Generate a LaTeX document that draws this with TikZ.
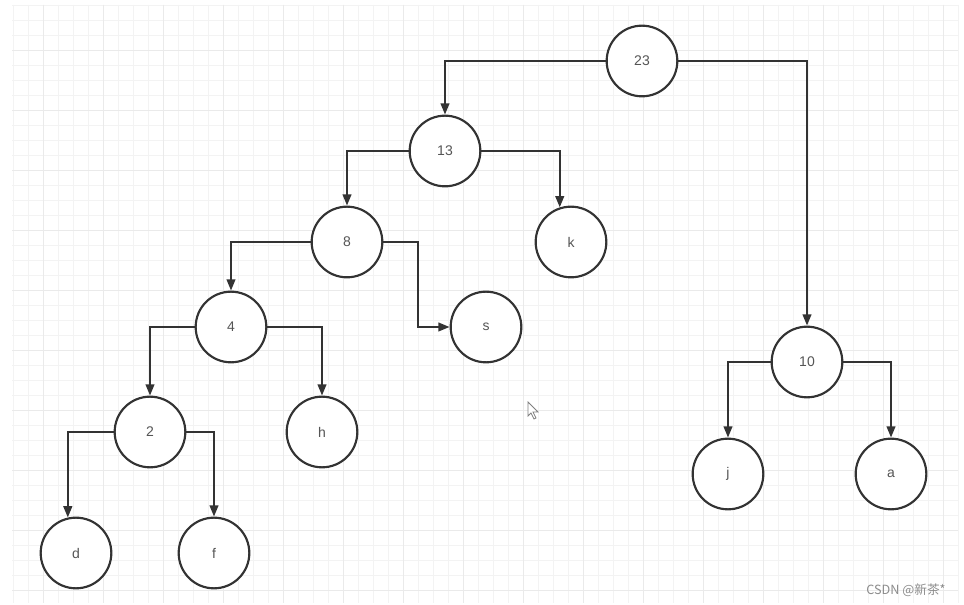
\documentclass[tikz,border=0pt]{standalone}
\usepackage{fontspec}
\setmainfont{Liberation Sans}
\newfontfamily\cjk{Noto Sans CJK SC}
\usetikzlibrary{arrows.meta}

\definecolor{gridminor}{HTML}{F3F3F3}
\definecolor{gridmajor}{HTML}{EAEAEA}
\definecolor{linegray}{HTML}{333333}
\definecolor{textgray}{HTML}{555555}

\tikzset{
	leaf/.style={circle, draw=linegray, line width=1.6pt, fill=white,
		minimum size=53pt, inner sep=0pt, text=textgray,
		font=\fontsize{10.5}{12}\selectfont},
	edge/.style={draw=linegray, line width=1.6pt,
		-{Triangle[length=8.5pt,width=6.5pt]}}
}

\begin{document}
\begin{tikzpicture}[x=0.75pt,y=-0.75pt]
	
	\useasboundingbox (0,0) rectangle (964,605);
	\fill[white] (0,0) rectangle (964,605);
	
	% grid
	\foreach \gx in {13,28,...,958}
		\draw[gridminor, line width=0.6pt] (\gx,5) -- (\gx,603);
	\foreach \gy in {5,20,...,603}
		\draw[gridminor, line width=0.6pt] (12,\gy) -- (958,\gy);
	\foreach \gx in {43,103,...,958}
		\draw[gridmajor, line width=0.7pt] (\gx,5) -- (\gx,603);
	\foreach \gy in {50,110,...,603}
		\draw[gridmajor, line width=0.7pt] (12,\gy) -- (958,\gy);
	
	% tree
	\node[leaf] (n23) at (642,61) {23};
	\node[leaf] (n13) at (445,151) {13};
	\node[leaf] (k) at (571,242) {k};
	\node[leaf] (n8) at (347,242) {8};
	\node[leaf] (s) at (486,327) {s};
	\node[leaf] (n4) at (231,327) {4};
	\node[leaf] (h) at (322,432) {h};
	\node[leaf] (n2) at (150,432) {2};
	\node[leaf] (d) at (76,553) {d};
	\node[leaf] (f) at (214,553) {f};
	\node[leaf] (n10) at (807,362) {10};
	\node[leaf] (j) at (728,474) {j};
	\node[leaf] (a) at (891,474) {a};
	
	\draw[edge] (n23.west) -| (n13.north);
	\draw[edge] (n23.east) -| (n10.north);
	\draw[edge] (n13.west) -| (n8.north);
	\draw[edge] (n13.east) -| (k.108);
	\draw[edge] (n8.west) -| (n4.north);
	\draw[edge] (n8.east) -- ++(35,0) |- (s.west);
	\draw[edge] (n4.west) -| (n2.north);
	\draw[edge] (n4.east) -| (h.north);
	\draw[edge] (n2.west) -| (d.103);
	\draw[edge] (n2.east) -| (f.north);
	\draw[edge] (n10.west) -| (j.north);
	\draw[edge] (n10.east) -| (a.north);
	
	% mouse pointer
	\draw[fill=white, draw=gray, line width=0.6pt]
		(528,402) -- (528,416) -- (531,413) -- (534,419) -- (536,418)
		-- (533,412) -- (538,412) -- cycle;
	
	\node[text=gray!90, font=\cjk\fontsize{9.5}{11}\selectfont] (mark)
		at (906,590) {CSDN @新茶*};
	
\end{tikzpicture}
\end{document}
